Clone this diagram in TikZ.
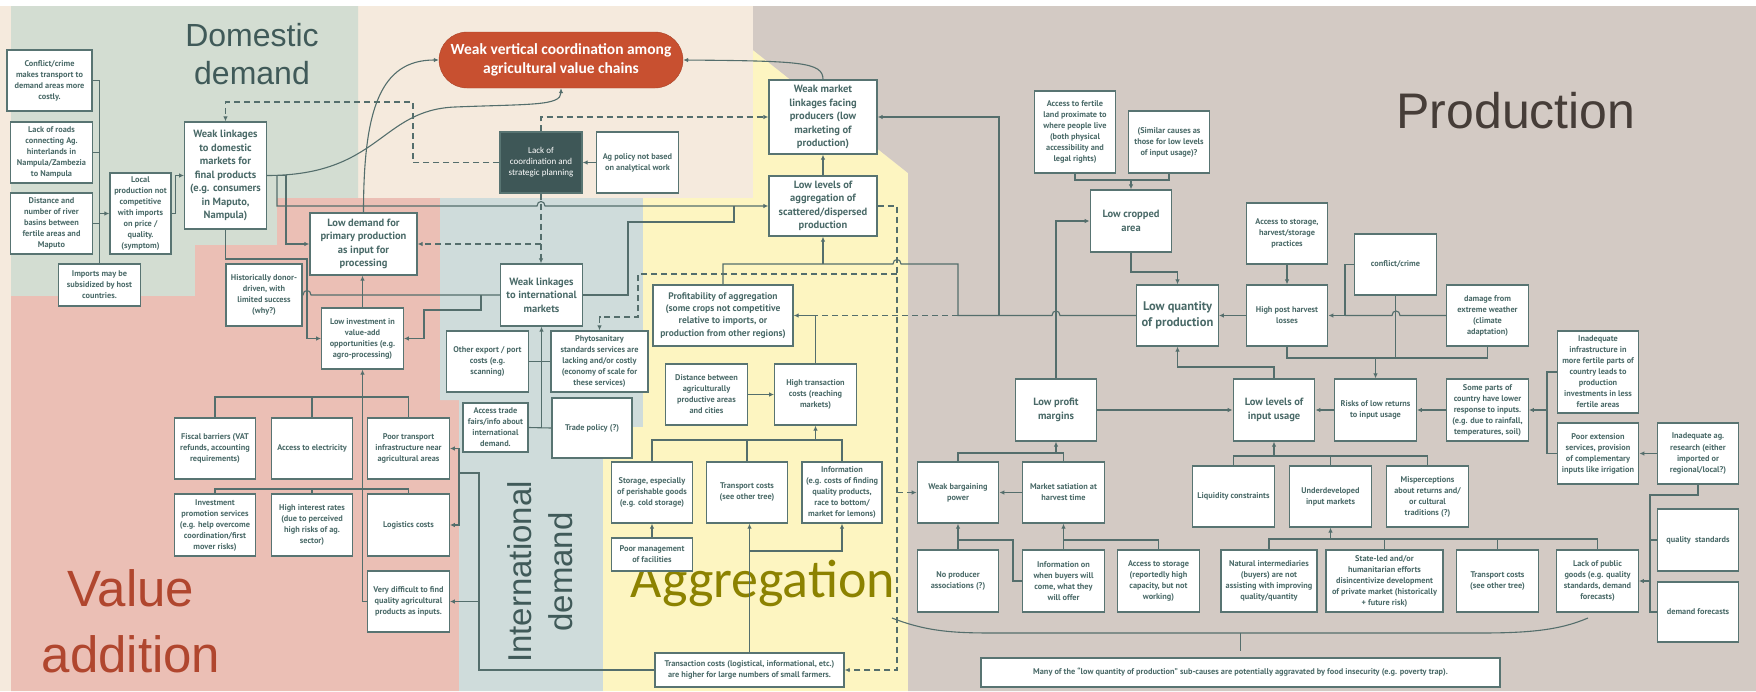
\documentclass[tikz,border=0pt]{standalone}
\usepackage{fontspec}
\setmainfont{Liberation Sans}
\newfontfamily\calibfont{Carlito}
\newfontfamily\boxfont{PT Sans}
\usetikzlibrary{arrows.meta}
\definecolor{peachbg}{RGB}{245,234,221}
\definecolor{domesticbg}{RGB}{211,221,210}
\definecolor{valuebg}{RGB}{235,191,181}
\definecolor{interbg}{RGB}{207,220,219}
\definecolor{aggbg}{RGB}{253,245,193}
\definecolor{prodbg}{RGB}{211,202,196}
\definecolor{boxline}{RGB}{88,116,114}
\definecolor{boxtext}{RGB}{74,106,104}
\definecolor{linkcol}{RGB}{84,110,108}
\definecolor{ovalred}{RGB}{200,80,48}
\definecolor{darkteal}{RGB}{62,87,87}
\definecolor{domestictxt}{RGB}{64,90,89}
\definecolor{valuetxt}{RGB}{176,70,46}
\definecolor{aggtxt}{RGB}{140,130,0}
\definecolor{prodtxt}{RGB}{70,61,56}

\begin{document}
\begin{tikzpicture}[x=1pt, y=-1pt,
	cause/.style={draw=boxline, line width=1.3pt, fill=white, text=boxtext, align=center, inner sep=1pt,
		minimum width=81.5pt, minimum height=61pt, font=\boxfont\bfseries\fontsize{8.3}{11}\selectfont},
	bigcause/.style={cause, font=\boxfont\bfseries\fontsize{10.5}{13.5}\selectfont},
	ovalbox/.style={fill=ovalred, draw=ovalred!85!black, rounded corners=28pt, minimum width=244pt,
		minimum height=56pt, text=white, align=center, font=\calibfont\bfseries\fontsize{15.5}{19}\selectfont},
	darkbox/.style={cause, fill=darkteal, text=white, font=\calibfont\fontsize{9}{11}\selectfont},
	link/.style={draw=linkcol, line width=1.1pt},
	arr/.style={link, -{Latex[length=5pt,width=4.5pt]}},
	dashline/.style={dash pattern=on 6pt off 4pt},
	title/.style={inner sep=0pt, align=center}]
		\useasboundingbox (0,0) rectangle (1756,691);
		\fill[white] (0,0) rectangle (1756,691);
		\fill[peachbg] (0,6) rectangle (1756,691);
		\fill[domesticbg] (11,6) -- (358,6) -- (358,198) -- (277,198) -- (277,245) -- (195,245) -- (195,296) -- (11,296) -- cycle;
		\fill[valuebg] (11,296) -- (195,296) -- (195,245) -- (277,245) -- (277,198) -- (440,198) -- (440,400) -- (459,400) -- (459,691) -- (11,691) -- cycle;
		\fill[interbg] (440,198) -- (643,198) -- (643,427) -- (603,427) -- (603,691) -- (459,691) -- (459,400) -- (440,400) -- cycle;
		\fill[aggbg] (603,691) -- (603,427) -- (643,427) -- (643,198) -- (753,198) -- (753,50) -- (908,173) -- (908,691) -- cycle;
		\fill[prodbg] (753,6) -- (1756,6) -- (1756,691) -- (908,691) -- (908,173) -- (753,50) -- cycle;

		\node[title, text=domestictxt, font=\fontsize{32}{38}\selectfont] (domtitle)at(252, 54) {Domestic\\demand};
		\node[title, text=valuetxt, font=\fontsize{51}{66}\selectfont] (valtitle)at(131, 621) {Value\\addition};
		\node[title, text=domestictxt, font=\fontsize{33}{41}\selectfont, rotate=90] (inttitle)at(540, 572) {International\\demand};
		\node[title, text=aggtxt, font=\calibfont\fontsize{54}{60}\selectfont, anchor=base] (aggtitle)at(763, 597) {Aggregation};
		\node[title, text=prodtxt, font=\fontsize{50}{60}\selectfont, anchor=base] (prodtitle)at(1516, 128) {Production};

		\node[cause, minimum width=85pt] (conflictT)at(49.5, 80.5) {Conflict/crime\\makes transport to\\demand areas more\\costly.};
		\node[cause] (roads)at(51.5, 152.5) {Lack of roads\\connecting Ag.\\hinterlands in\\Nampula/Zambezia\\to Nampula};
		\node[cause] (distance)at(51.5, 223.5) {Distance and\\number of river\\basins between\\fertile areas and\\Maputo};
		\node[cause, minimum width=61pt, minimum height=81pt] (local)at(140.5, 213.5) {Local\\production not\\competitive\\with imports\\on price /\\quality.\\(symptom)};
		\node[cause, minimum height=42pt] (imports)at(99.5, 285) {Imports may be\\subsidized by host\\countries.};
		\node[bigcause, minimum height=107pt] (wld)at(225.5, 175.5) {Weak linkages\\to domestic\\markets for\\final products\\(e.g. consumers\\in Maputo,\\Nampula)};

		\node[bigcause, minimum width=107pt, minimum height=62pt] (lowdem)at(363.5, 244) {Low demand for\\primary production\\as input for\\processing};
		\node[cause, minimum width=76pt, minimum height=62pt] (donor)at(264, 295) {Historically donor-\\driven, with\\limited success\\(why?)};
		\node[cause] (lowinv)at(362.5, 338.5) {Low investment in\\value-add\\opportunities (e.g.\\agro-processing)};
		\node[cause] (fiscal)at(215, 448.5) {Fiscal barriers (VAT\\refunds, accounting\\requirements)};
		\node[cause] (elec)at(312, 448.5) {Access to electricity};
		\node[cause] (poortr)at(408.5, 448.5) {Poor transport\\infrastructure near\\agricultural areas};
		\node[cause, minimum height=62pt] (invprom)at(215, 525) {Investment\\promotion services\\(e.g. help overcome\\coordination/first\\mover risks)};
		\node[cause, minimum height=62pt] (interest)at(312, 525) {High interest rates\\(due to perceived\\high risks of ag.\\sector)};
		\node[cause, minimum height=62pt] (logist)at(408.5, 525) {Logistics costs};
		\node[cause] (verydiff)at(408.5, 601.5) {Very difficult to find\\quality agricultural\\products as inputs.};

		\node[ovalbox] (oval)at(561, 60) {Weak vertical coordination among\\agricultural value chains};
		\node[darkbox, minimum width=82pt] (lackcoord)at(541, 162.5) {Lack of\\coordination and\\strategic planning};
		\node[cause] (agpol)at(637.5, 162.5) {Ag policy not based\\on analytical work};

		\node[bigcause, minimum height=62pt] (wli)at(541.5, 295) {Weak linkages\\to international\\markets};
		\node[cause] (otherexp)at(487.5, 361.5) {Other export / port\\costs (e.g.\\scanning)};
		\node[cause, minimum width=97pt] (phyto)at(599.5, 361.5) {Phytosanitary\\standards services are\\lacking and/or costly\\(economy of scale for\\these services)};
		\node[cause, minimum width=65pt, minimum height=49pt] (tradefair)at(495.5, 427.5) {Access trade\\fairs/info about\\international\\demand.};
		\node[cause, minimum width=80pt, minimum height=60pt] (tradepol)at(592, 428) {Trade policy (?)};

		\node[bigcause, minimum width=108pt, minimum height=74pt] (wmlp)at(823, 117) {Weak market\\linkages facing\\producers (low\\marketing of\\production)};
		\node[bigcause, minimum width=108pt, minimum height=60pt] (lla)at(823, 206) {Low levels of\\aggregation of\\scattered/dispersed\\production};
		\node[cause, minimum width=140pt, font=\boxfont\bfseries\fontsize{9.5}{12.3}\selectfont] (profit)at(723, 315.5) {Profitability of aggregation\\(some crops not competitive\\relative to imports, or\\production from other regions)};
		\node[cause] (distcity)at(706.5, 394.5) {Distance between\\agriculturally\\productive areas\\and cities};
		\node[cause] (htc)at(815.5, 394.5) {High transaction\\costs (reaching\\markets)};
		\node[cause] (storage)at(652, 492.5) {Storage, especially\\of perishable goods\\(e.g. cold storage)};
		\node[cause] (transp)at(747, 492.5) {Transport costs\\(see other tree)};
		\node[cause, minimum width=80pt] (info)at(842, 492.5) {Information\\(e.g. costs of finding\\quality products,\\race to bottom/\\market for lemons)};
		\node[cause, minimum height=33pt] (poormgmt)at(652, 554.5) {Poor management\\of facilities};
		\node[cause, minimum width=189pt, minimum height=34pt] (transac)at(749.5, 670) {Transaction costs (logistical, informational, etc.)\\are higher for large numbers of small farmers.};

		\node[cause, minimum height=82pt] (fertile)at(1075, 132) {Access to fertile\\land proximate to\\where people live\\(both physical\\accessibility and\\legal rights)};
		\node[cause, minimum height=62pt] (similar)at(1169, 142) {(Similar causes as\\those for low levels\\of input usage)?};
		\node[bigcause, minimum height=62pt] (lca)at(1131, 221) {Low cropped\\area};
		\node[cause, font=\boxfont\bfseries\fontsize{12.5}{16}\selectfont] (lqp)at(1177.5, 315.5) {Low quantity\\of production};
		\node[cause] (storprac)at(1287, 233.5) {Access to storage,\\harvest/storage\\practices};
		\node[cause] (hphl)at(1287, 315.5) {High post harvest\\losses};
		\node[cause] (conflictP)at(1395.5, 264.5) {conflict/crime};
		\node[cause] (damage)at(1487.5, 315.5) {damage from\\extreme weather\\(climate\\adaptation)};
		\node[bigcause, minimum height=62pt] (lpm)at(1056, 410) {Low profit\\margins};
		\node[bigcause, minimum height=62pt] (lli)at(1274, 410) {Low levels of\\input usage};
		\node[cause, minimum height=62pt] (risk)at(1375.5, 410) {Risks of low returns\\to input usage};
		\node[cause, minimum height=62pt] (someparts)at(1487.5, 410) {Some parts of\\country have lower\\response to inputs.\\(e.g. due to rainfall,\\temperatures, soil)};
		\node[cause, minimum height=82pt] (inadinfra)at(1598, 372) {Inadequate\\infrastructure in\\more fertile parts of\\country leads to\\production\\investments in less\\fertile areas};
		\node[cause] (poorext)at(1598, 453.5) {Poor extension\\services, provision\\of complementary\\inputs like irrigation};
		\node[cause] (inadres)at(1698, 453.5) {Inadequate ag.\\research (either\\imported or\\regional/local?)};
		\node[cause] (wbp)at(958, 492.5) {Weak bargaining\\power};
		\node[cause] (satiation)at(1063.5, 492.5) {Market satiation at\\harvest time};
		\node[cause] (liquidity)at(1233.5, 496.5) {Liquidity constraints};
		\node[cause] (underdev)at(1330.5, 496.5) {Underdeveloped\\input markets};
		\node[cause] (misperc)at(1427.5, 496.5) {Misperceptions\\about returns and/\\or cultural\\traditions (?)};
		\node[cause, minimum height=62pt] (noprod)at(958, 581) {No producer\\associations (?)};
		\node[cause, minimum height=62pt] (infobuy)at(1063.5, 581) {Information on\\when buyers will\\come, what they\\will offer};
		\node[cause, minimum height=62pt] (accstor)at(1158.5, 581) {Access to storage\\(reportedly high\\capacity, but not\\working)};
		\node[cause, minimum width=96pt, minimum height=62pt] (natural)at(1269, 581) {Natural intermediaries\\(buyers) are not\\assisting with improving\\quality/quantity};
		\node[cause, minimum width=117pt, minimum height=62pt] (stateled)at(1384.5, 581) {State-led and/or\\humanitarian efforts\\disincentivize development\\of private market (historically\\+ future risk)};
		\node[cause, minimum height=62pt] (transp2)at(1497.5, 581) {Transport costs\\(see other tree)};
		\node[cause, minimum height=62pt] (pubgoods)at(1597.5, 581) {Lack of public\\goods (e.g. quality\\standards, demand\\forecasts)};
		\node[cause, minimum height=62pt] (qualstd)at(1698, 540) {quality\ \ standards};
		\node[cause, minimum height=60pt] (demfc)at(1698, 612) {demand forecasts};
		\node[cause, minimum width=519pt, minimum height=29pt] (foodins)at(1240.5, 672.5) {Many of the “low quantity of production” sub-causes are potentially aggravated by food insecurity (e.g. poverty trap).};

		\draw[link] (conflictT.east) -- (conflictT.east -| imports.north) -- (imports.north);
		\draw[link] (roads.east) -- (roads.east -| imports.north);
		\draw[link] (distance.east) -- (distance.east -| imports.north);
		\draw[arr] (local.west -| imports.north) -- (local.west);
		\draw[arr] (local.east) -- ++(4,0) |- (wld.west);
		\draw[arr, dashline] (lackcoord.west) -- (413,162.5) -- (413,102) -| (wld.north);
		\draw[arr] (wld.east) .. controls (380,175.5) and (380,110) .. (455,107) .. controls (530,104) and (561,106) .. (oval.south);
		\draw[arr] (wld.east) -- (286,175.5) |- (lowdem.west);
		\draw[arr] (277,175.5) -- (277,206) -- (537,206) .. controls (537,200) and (545,200) .. (545,206) -- (lla.west);
		\draw[link] (wli.east) -- (628,295) -- (628,222) -- (734,222) -- (734,206);
		\draw[arr] (lowdem.north) .. controls (363.5,110) and (380,60) .. (oval.west);
		\draw[arr] (lowinv.north) -- (lowinv.north |- lowdem.south);
		\draw[arr] (wld.south) -- (225.5,259) -- (307,259) -- (307,338.5) -- (lowinv.west);
		\draw[link] (donor.east) -- (303,295) .. controls (303,289) and (311,289) .. (311,295) -- (wli.west);
		\draw[arr] (481,295) -- (481,310) -- (424,310) -- (424,338.5) -- (lowinv.east);
		\draw[link] (fiscal.north) -- (215,397) -- (408.5,397) -- (poortr.north);
		\draw[link] (elec.north) -- (312,397);
		\draw[link] (invprom.north) -- (215,489) -- (408.5,489) -- (logist.north);
		\draw[link] (interest.north) -- (312,489);
		\draw[arr, line width=1.6pt] (verydiff.west) -- (362.5,601.5) -- (lowinv.south);
		\draw[link] (transac.west) -- (479,670) -- (479,473) -- (459,473);
		\draw[arr] (459,473) |- (poortr.east);
		\draw[arr] (459,473) |- (logist.east);
		\draw[arr] (479,601.5) -- (verydiff.east);

		\draw[link] (otherexp.east) -- (phyto.west);
		\draw[link] (tradefair.east) -- (tradepol.west);
		\draw[arr] (541.5,428) -- (wli.south);
		\draw[arr] (agpol.west) -- (lackcoord.east);
		\draw[arr, dashline] (lackcoord.south) -- (lackcoord.south |- wli.north);
		\draw[arr, dashline] (541,244) -- (lowdem.east);
		\draw[arr, dashline] (lackcoord.north) -- (541,117) -- (wmlp.west);
		\draw[arr] (wmlp.north) .. controls (823,62) and (800,61) .. (oval.east);

		\draw[arr] (lla.north) -- (wmlp.south);
		\draw[link] (lqp.west) -- (1060,315.5) .. controls (1060,309.5) and (1052,309.5) .. (1052,315.5) -- (958,315.5) -- (958,264) -- (901,264) .. controls (901,258) and (893,258) .. (893,264) -- (723,264) -- (profit.north);
		\draw[arr] (823,264) -- (lla.south);
		\draw[arr] (999,315.5) -- (999,117) -- (wmlp.east);
		\draw[link, dashline] (958,315.5) -- (815.5,315.5);
		\draw[arr] (htc.north) -- (815.5,315.5) -- (profit.east);
		\draw[arr] (distcity.east) -- (htc.west);
		\draw[link] (storage.north) -- (652,440) -- (842,440) -- (info.north);
		\draw[link] (transp.north) -- (747,440);
		\draw[arr] (815.5,440) -- (htc.south);
		\draw[arr] (poormgmt.north) -- (storage.south);
		\draw[arr] (transac.north) -- (transac.north |- transp.south);
		\draw[arr] (749.5,551) -| (info.south);
		\draw[arr, dashline] (lla.east) -- (897,206) -- (897,670) -- (transac.east);
		\draw[arr, dashline] (897,274) -- (638,274) -- (638,317) -- (599.5,317) -- (phyto.north);
		\draw[arr, dashline] (897,492.5) -- (wbp.west);

		\draw[link] (fertile.south) -- (1075,180) -- (1169,180) -- (similar.south);
		\draw[arr] (1131,180) -- (lca.north);
		\draw[arr] (lpm.north) -- (1056,221) -- (lca.west);
		\draw[arr] (lca.south) -- (1131,272) -- (1177.5,272) -- (lqp.north);
		\draw[arr] (hphl.west) -- (lqp.east);
		\draw[arr] (lli.north) -- (1274,367) -- (1177.5,367) -- (lqp.south);
		\draw[arr] (lpm.east) -- (lli.west);
		\draw[arr] (storprac.south) -- (hphl.north);
		\draw[arr] (conflictP.west) -- (1345,264.5) -- (1345,315.5) -- (hphl.east);
		\draw[link] (damage.west) -- (1400,315.5) .. controls (1400,309.5) and (1392,309.5) .. (1392,315.5) -- (1345,315.5);
		\draw[link] (hphl.south) -- (1287,358) -- (1487.5,358) -- (damage.south);
		\draw[link] (conflictP.south) -- (1395.5,358);
		\draw[arr] (1375.5,358) -- (risk.north);
		\draw[arr] (risk.west) -- (lli.east);
		\draw[arr] (someparts.west) -- (risk.east);
		\draw[link] (inadinfra.west) -- (1547,372) -- (1547,453.5) -- (poorext.west);
		\draw[arr] (1547,410) -- (someparts.east);
		\draw[arr] (inadres.west) -- (poorext.east);
		\draw[link] (inadres.south) -- (1698,495) -- (1650,495) -- (1650,612) -- (demfc.west);
		\draw[link] (1650,540) -- (qualstd.west);
		\draw[arr] (1650,581) -- (pubgoods.east);
		\draw[link] (wbp.north) -- (958,453) -- (1063.5,453) -- (satiation.north);
		\draw[arr] (1056,453) -- (lpm.south);
		\draw[arr] (satiation.west) -- (wbp.east);
		\draw[arr] (noprod.north) -- (wbp.south);
		\draw[link] (infobuy.west) -- (1013,581) -- (1013,540) -- (958,540);
		\draw[arr] (infobuy.north) -- (satiation.south);
		\draw[link] (accstor.north) -- (1158.5,540) -- (1063.5,540);
		\draw[link] (liquidity.north) -- (1233.5,456) -- (1427.5,456) -- (misperc.north);
		\draw[link] (underdev.north) -- (1330.5,456);
		\draw[arr] (1274,456) -- (lli.south);
		\draw[link] (natural.north) -- (1269,539) -- (1597.5,539) -- (pubgoods.north);
		\draw[link] (stateled.north) -- (1384.5,539);
		\draw[link] (transp2.north) -- (1497.5,539);
		\draw[arr] (1330.5,539) -- (underdev.south);
		\draw[link] (892,618) .. controls (930,633) and (960,633) .. (1000,633) -- (1480,633) .. controls (1530,633) and (1560,630) .. (1588,618);
		\draw[link] (1240.5,633) -- (1240.5,651);
\end{tikzpicture}
\end{document}
